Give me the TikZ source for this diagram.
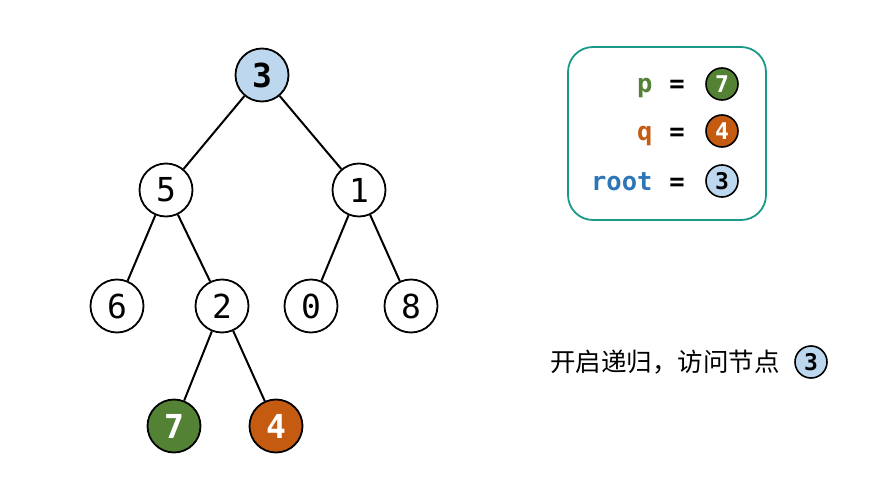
\documentclass[tikz,border=0pt]{standalone}
\usepackage{fontspec}
\setmonofont{DejaVu Sans Mono}
\newfontfamily\cjk{Noto Sans CJK SC}
\definecolor{lblue}{HTML}{BDD7EE}
\definecolor{dgreen}{HTML}{548235}
\definecolor{dorange}{HTML}{C55A11}
\definecolor{teal2}{HTML}{1A9988}
\definecolor{rblue}{HTML}{2E75B6}
\begin{document}
\begin{tikzpicture}[x=1pt,y=-1pt,
  tnode/.style={circle,draw=black,line width=1.8pt,fill=white,minimum size=53pt,inner sep=0pt,font=\ttfamily\fontsize{33}{33}\selectfont},
  hnode/.style={tnode,font=\ttfamily\bfseries\fontsize{33}{33}\selectfont},
  snode/.style={circle,draw=black,line width=1.6pt,minimum size=32pt,inner sep=0pt,font=\ttfamily\bfseries\fontsize{23}{23}\selectfont},
  edge/.style={line width=2pt,draw=black},
  lbl/.style={font=\ttfamily\bfseries\fontsize{25.5}{25.5}\selectfont,anchor=base east}
]
\useasboundingbox (0,0) rectangle (894,492);
\node[hnode,fill=lblue] (n3) at (262,75) {3};
\node[tnode] (n5) at (166,190) {5};
\node[tnode] (n1) at (359,190) {1};
\node[tnode] (n6) at (117,306) {6};
\node[tnode] (n2) at (222,306) {2};
\node[tnode] (n0) at (311,306) {0};
\node[tnode] (n8) at (411,306) {8};
\node[hnode,fill=dgreen,text=white] (n7) at (174,426) {7};
\node[hnode,fill=dorange,text=white] (n4) at (276,426) {4};
\draw[edge] (n3) -- (n5);
\draw[edge] (n3) -- (n1);
\draw[edge] (n5) -- (n6);
\draw[edge] (n5) -- (n2);
\draw[edge] (n1) -- (n0);
\draw[edge] (n1) -- (n8);
\draw[edge] (n2) -- (n7);
\draw[edge] (n2) -- (n4);
% legend box
\node[draw=teal2,line width=1.8pt,rounded corners=25pt,minimum width=198pt,minimum height=173pt] (box) at (667,133.5) {};
\node[lbl,text=dgreen] (lp) at (656,93) {p};
\node[lbl,text=dorange] (lq) at (656,140) {q};
\node[lbl,text=rblue] (lr) at (656,190) {root};
\node[lbl,anchor=base] (e1) at (677,93) {=};
\node[lbl,anchor=base] (e2) at (677,140) {=};
\node[lbl,anchor=base] (e3) at (677,190) {=};
\node[snode,fill=dgreen,text=white] (c7) at (722,84) {7};
\node[snode,fill=dorange,text=white] (c4) at (722,131) {4};
\node[snode,fill=lblue] (c3) at (722,181) {3};
% caption
\node[font=\cjk\fontsize{25.5}{25.5}\selectfont,anchor=west,inner sep=0pt] (cap) at (550,362) {开启递归，访问节点};
\node[snode,fill=lblue] (cc3) at (811,362) {3};
\end{tikzpicture}
\end{document}
